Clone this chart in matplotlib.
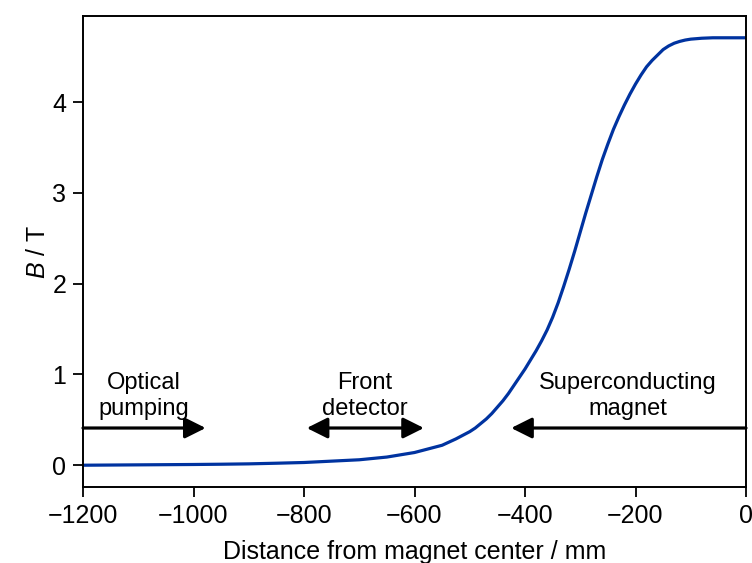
import matplotlib
matplotlib.use("Agg")
import matplotlib.pyplot as plt

plt.rcParams['font.family'] = ['Liberation Sans', 'DejaVu Sans']
plt.rcParams['mathtext.fontset'] = 'custom'
plt.rcParams['mathtext.rm'] = 'Liberation Sans'
plt.rcParams['mathtext.it'] = 'Liberation Sans:italic'

# Field profile
distance_mm = [-1200, -1150, -1100, -1050, -1000, -950, -900, -850, -800, -750,
               -700, -650, -600, -575, -550, -525, -500, -490, -480, -470,
               -460, -450, -440, -430, -420, -410, -400, -390, -380, -370,
               -360, -350, -340, -330, -320, -310, -300, -290, -280, -270,
               -260, -250, -240, -230, -220, -210, -200, -190, -180, -170,
               -160, -150, -140, -130, -120, -110, -100, -90, -80, -60,
               -40, 0]
field_T = [0.00, 0.002, 0.004, 0.006, 0.008, 0.011, 0.015, 0.022, 0.03, 0.045,
           0.06, 0.09, 0.14, 0.18, 0.22, 0.29, 0.37, 0.41, 0.46, 0.51,
           0.57, 0.64, 0.71, 0.79, 0.88, 0.97, 1.06, 1.16, 1.26, 1.37,
           1.49, 1.63, 1.79, 1.97, 2.16, 2.36, 2.57, 2.78, 2.98, 3.18,
           3.37, 3.54, 3.70, 3.84, 3.97, 4.09, 4.20, 4.30, 4.39, 4.46,
           4.52, 4.58, 4.62, 4.65, 4.67, 4.685, 4.695, 4.70, 4.705, 4.71,
           4.71, 4.71]

# Region annotations: label, label x, arrow start, arrow end, style
region_labels = ["Optical\npumping", "Front\ndetector", "Superconducting\nmagnet"]
region_label_x = [-1090, -690, -214]
region_from = [-1200, -795, 0]
region_to = [-978, -583, -425]
region_style = ['-|>', '<|-|>', '-|>']
arrow_y = 0.41
label_y = 0.50

xticks = [-1200, -1000, -800, -600, -400, -200, 0]
yticks = [0, 1, 2, 3, 4]

fig = plt.figure(figsize=(7.52, 5.63), dpi=100)
ax = fig.add_axes([83/752, (563-487)/563, 663/752, 471/563])

ax.plot(distance_mm, field_T, color='#0033a0', lw=2.3, solid_capstyle='butt')

for lab, lx, x0, x1, st in zip(region_labels, region_label_x, region_from, region_to, region_style):
    ax.annotate('', xy=(x1, arrow_y), xytext=(x0, arrow_y),
                arrowprops=dict(arrowstyle=st + ',head_length=0.9,head_width=0.45',
                                color='black', lw=2.3, shrinkA=0, shrinkB=0,
                                mutation_scale=14))
    ax.text(lx, label_y, lab, ha='center', va='bottom', fontsize=17,
            linespacing=1.25)

ax.set_xlim(-1200, 0)
ax.set_ylim(-0.24, 4.95)
ax.set_xticks(xticks)
ax.set_xticklabels([('\u2212' + str(-t)) if t < 0 else str(t) for t in xticks])
ax.set_yticks(yticks)
ax.tick_params(labelsize=18, length=7, width=1.3, direction='out', pad=5)
for s in ax.spines.values():
    s.set_linewidth(1.4)

ax.set_xlabel('Distance from magnet center / mm', fontsize=18, labelpad=9)
ax.set_ylabel('$B$ / T', fontsize=18, labelpad=2)

fig.savefig('out.png', dpi=100)
